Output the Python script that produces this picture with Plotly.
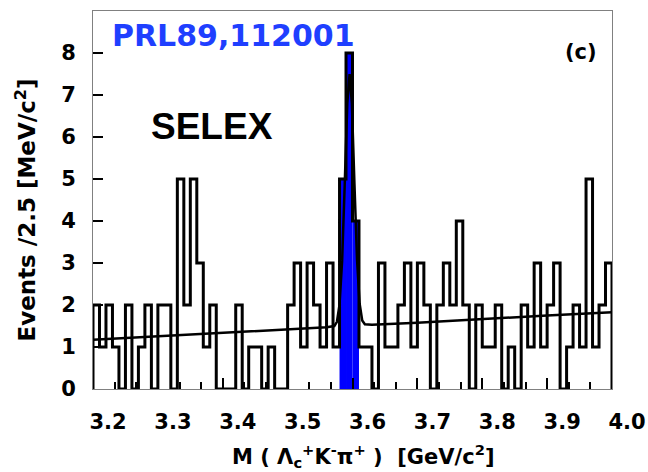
import plotly.graph_objects as go

# ---------------- data ----------------
BIN_START = 3.2          # GeV/c^2, left edge of first bin
BIN_WIDTH = 0.01         # GeV/c^2
counts = [2, 1, 2, 1, 0, 2, 0, 1, 2, 0,    # 3.20 - 3.29
          2, 2, 0, 5, 2, 5, 3, 1, 2, 0,    # 3.30 - 3.39
          0, 0, 2, 0, 1, 1, 0, 1, 0, 0,    # 3.40 - 3.49
          2, 3, 1, 3, 2, 1, 3, 1, 5, 8,    # 3.50 - 3.59
          4, 1, 1, 0, 3, 1, 1, 2, 3, 1,    # 3.60 - 3.69
          3, 2, 0, 2, 3, 2, 4, 2, 0, 2,    # 3.70 - 3.79
          1, 1, 2, 0, 1, 0, 2, 1, 3, 1,    # 3.80 - 3.89
          2, 3, 0, 1, 2, 1, 5, 1, 2, 3]    # 3.90 - 3.99
signal_bins = [38, 39, 40]   # bins drawn filled in blue

# fit curve (background + peak)
fit_mass = [3.200, 3.300, 3.400, 3.500, 3.560, 3.572, 3.576, 3.580, 3.584,
            3.588, 3.592, 3.5955, 3.599, 3.603, 3.607, 3.611, 3.615, 3.619,
            3.630, 3.700, 3.800, 3.900, 4.000]
fit_value = [1.17, 1.25, 1.34, 1.42, 1.47, 1.50, 1.60, 2.01, 3.05,
             4.87, 6.80, 7.50, 6.80, 4.88, 3.07, 2.03, 1.63, 1.54,
             1.53, 1.58, 1.67, 1.75, 1.83]

x_ticks = [3.2, 3.3, 3.4, 3.5, 3.6, 3.7, 3.8, 3.9, 4.0]
x_tick_labels = ["3.2", "3.3", "3.4", "3.5", "3.6", "3.7", "3.8", "3.9", "4.0"]
y_ticks = [0, 1, 2, 3, 4, 5, 6, 7, 8, 9]
y_tick_labels = ["0", "1", "2", "3", "4", "5", "6", "7", "8", ""]

# ---------------- build traces ----------------
edges = [BIN_START + BIN_WIDTH * i for i in range(len(counts) + 1)]
centers = [BIN_START + BIN_WIDTH * (i + 0.5) for i in range(len(counts))]
step_x = [edges[0]] + edges[:-1] + [edges[-1], edges[-1]]
step_y = [0] + counts + [counts[-1], 0]

BOLD = "DejaVu Sans"

fig = go.Figure()
fig.add_trace(go.Bar(
    x=[centers[i] for i in signal_bins],
    y=[counts[i] for i in signal_bins],
    width=BIN_WIDTH,
    marker=dict(color="#0000ff", line=dict(width=0)),
    showlegend=False, hoverinfo="skip"))
fig.add_trace(go.Scatter(
    x=step_x, y=step_y, mode="lines", line_shape="hv",
    line=dict(color="black", width=3), showlegend=False))
fig.add_trace(go.Scatter(
    x=fit_mass, y=fit_value, mode="lines",
    line=dict(color="black", width=2.5), showlegend=False))

fig.update_layout(
    width=648, height=472,
    margin=dict(l=93, r=36, t=11, b=83, autoexpand=False),
    paper_bgcolor="white", plot_bgcolor="white",
    showlegend=False,
    xaxis=dict(
        range=[3.2, 4.0], tickvals=x_ticks, ticktext=x_tick_labels,
        ticks="inside", ticklen=11, tickwidth=1.5, tickcolor="black",
        minor=dict(dtick=0.1 / 3, tick0=3.2, ticks="inside", ticklen=7,
                   tickwidth=1.5, tickcolor="black", showgrid=False),
        showgrid=False, zeroline=False, automargin=False,
        showline=True, mirror=True, linecolor="#808080", linewidth=1,
        tickfont=dict(family=BOLD, size=21, color="black", weight="bold"),
        ticklabelshift=15, ticklabelstandoff=14,
    ),
    yaxis=dict(
        range=[0, 9], tickvals=y_ticks, ticktext=y_tick_labels,
        ticks="inside", ticklen=10, tickwidth=1.5, tickcolor="black",
        showgrid=False, zeroline=False, automargin=False,
        showline=True, mirror=True, linecolor="#808080", linewidth=1,
        tickfont=dict(family=BOLD, size=21, color="black", weight="bold"),
        ticklabelstandoff=12,
    ),
    annotations=[
        dict(text="PRL89,112001", x=0.271, y=0.934, xref="paper", yref="paper",
             xanchor="center", yanchor="middle", showarrow=False,
             font=dict(family=BOLD, size=30, color="#1f3fff", weight="bold")),
        dict(text="SELEX", x=0.229, y=0.694, xref="paper", yref="paper",
             xanchor="center", yanchor="middle", showarrow=False,
             font=dict(family="Liberation Sans", size=37, color="black", weight="bold")),
        dict(text="(c)", x=0.940, y=0.891, xref="paper", yref="paper",
             xanchor="center", yanchor="middle", showarrow=False,
             font=dict(family=BOLD, size=21, color="black", weight="bold")),
        dict(text="Events /2.5 [MeV/c<sup>2</sup>]", x=-0.13, y=0.4735,
             xref="paper", yref="paper", textangle=-90,
             xanchor="center", yanchor="middle", showarrow=False,
             font=dict(family=BOLD, size=23, color="black", weight="bold")),
        dict(text="M ( Λ<sub>c</sub><sup>+</sup>K<sup>-</sup>π<sup>+</sup> )  [GeV/c<sup>2</sup>]",
             x=0.521, y=-0.177, xref="paper", yref="paper",
             xanchor="center", yanchor="middle", showarrow=False,
             font=dict(family=BOLD, size=21, color="black", weight="bold")),
    ],
)

fig.write_html("out.html")
